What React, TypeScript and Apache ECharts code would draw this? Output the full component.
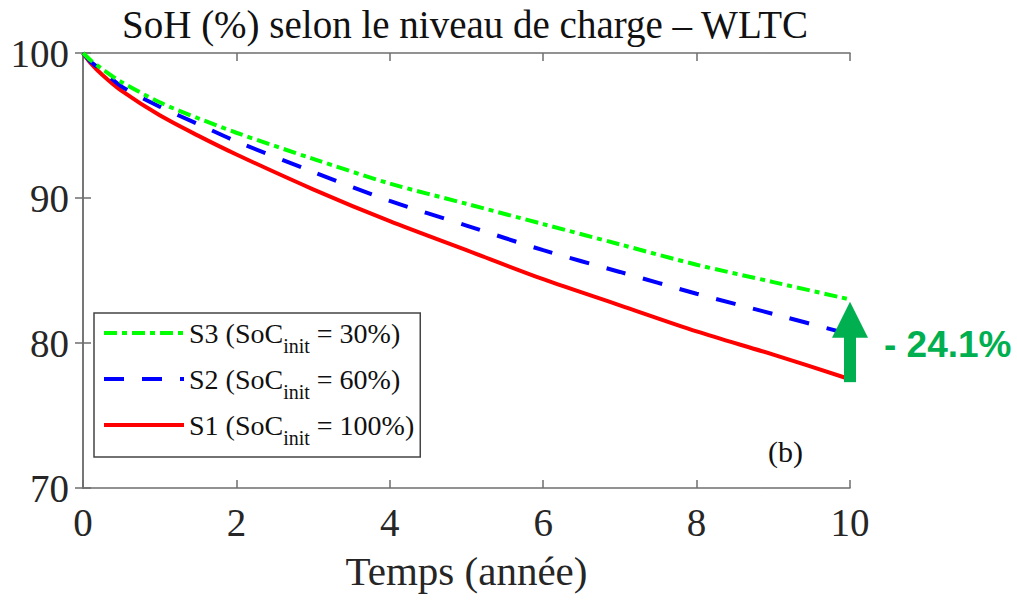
import React, { useEffect, useRef } from "react";
import * as echarts from "echarts";

const years = [0, 0.1, 0.25, 0.5, 1, 1.5, 2, 3, 4, 5, 6, 7, 8, 9, 10];
const s1 = [100, 99.3, 98.5, 97.4, 95.7, 94.3, 93.0, 90.6, 88.4, 86.4, 84.4, 82.6, 80.8, 79.2, 77.5];
const s2 = [100, 99.4, 98.8, 97.7, 96.3, 95.1, 93.9, 91.8, 89.8, 88.1, 86.4, 84.9, 83.4, 82.0, 80.6];
const s3 = [100, 99.5, 98.9, 98.0, 96.6, 95.5, 94.5, 92.7, 91.0, 89.6, 88.2, 86.8, 85.4, 84.2, 83.0];
const seriesNames = ["S3", "S2", "S1"];
const socInit = ["30%", "60%", "100%"];
const xTicks = [0, 2, 4, 6, 8, 10];
const yTicks = [70, 80, 90, 100];
const arrowFrom = 77.3;
const arrowTo = 81.6;
const deltaLabel = "- 24.1%";

const SERIF = "'Liberation Serif', 'Times New Roman', serif";
const AXIS = "#6e6e6e";
const TXT = "#262626";
const GREEN_ANN = "#00B050";

export default function App() {
  const ref = useRef<HTMLDivElement>(null);
  useEffect(() => {
    document.body.style.margin = "0";
    const chart = echarts.init(ref.current!, null, { renderer: "svg" });
    const pair = (vals: number[]) => years.map((t, i) => [t, vals[i]]);
    const axisCommon = {
      type: "value" as const,
      axisLine: { show: true, lineStyle: { color: AXIS, width: 1.5 } },
      axisTick: { show: true, inside: true, length: 8, lineStyle: { color: AXIS, width: 1.5 } },
      splitLine: { show: false },
    };
    chart.setOption({
      animation: false,
      backgroundColor: "#fff",
      title: {
        text: "SoH (%) selon le niveau de charge – WLTC",
        left: 460,
        textAlign: "center",
        top: 0,
        textStyle: { fontFamily: SERIF, fontSize: 39, fontWeight: "normal", color: "#111" },
      },
      grid: { left: 83, right: 167, top: 53, bottom: 114, containLabel: false },
      xAxis: [
        {
          ...axisCommon,
          min: xTicks[0],
          max: xTicks[xTicks.length - 1],
          interval: 2,
          position: "bottom",
          name: "Temps (année)",
          nameLocation: "middle",
          nameGap: 62,
          nameTextStyle: { fontFamily: SERIF, fontSize: 41, color: TXT },
          axisLabel: { fontFamily: SERIF, fontSize: 39, color: TXT, margin: 15 },
        },
        {
          ...axisCommon,
          min: xTicks[0],
          max: xTicks[xTicks.length - 1],
          interval: 2,
          position: "top",
          axisLabel: { show: false },
        },
      ],
      yAxis: [
        {
          ...axisCommon,
          min: yTicks[0],
          max: yTicks[yTicks.length - 1],
          interval: 10,
          position: "left",
          axisLabel: { fontFamily: SERIF, fontSize: 39, color: TXT, margin: 14 },
        },
        {
          ...axisCommon,
          min: yTicks[0],
          max: yTicks[yTicks.length - 1],
          interval: 10,
          position: "right",
          axisLabel: { show: false },
        },
      ],
      legend: {
        data: seriesNames,
        orient: "vertical",
        left: 94,
        top: 313,
        backgroundColor: "#fff",
        borderColor: "#444",
        borderWidth: 1.5,
        borderRadius: 0,
        padding: [6, 6, 9, 8],
        itemWidth: 80,
        itemHeight: 20,
        itemGap: 9,
        itemStyle: { opacity: 0 },
        lineStyle: { width: 4 },
        formatter: (name: string) => {
          const i = seriesNames.indexOf(name);
          return `{a|${name} (SoC}{b|init}{a| = ${socInit[i]})}`;
        },
        textStyle: {
          fontFamily: SERIF,
          color: "#111",
          rich: {
            a: { fontFamily: SERIF, fontSize: 28, lineHeight: 28, verticalAlign: "top", color: "#111" },
            b: { fontFamily: SERIF, fontSize: 20, lineHeight: 19, padding: [17, 0, 0, 0], verticalAlign: "top", color: "#111" },
          },
        },
      },
      series: [
        {
          name: "S3",
          type: "line",
          data: pair(s3),
          symbol: "none",
          smooth: 0.3,
          lineStyle: { color: "#00FF00", width: 4, type: [13, 5, 5, 5] },
          itemStyle: { color: "#00FF00" },
          z: 3,
        },
        {
          name: "S2",
          type: "line",
          data: pair(s2),
          symbol: "none",
          smooth: 0.3,
          lineStyle: { color: "#0000FF", width: 4, type: [20, 18] },
          itemStyle: { color: "#0000FF" },
          z: 2,
        },
        {
          name: "S1",
          type: "line",
          data: pair(s1),
          symbol: "none",
          smooth: 0.3,
          lineStyle: { color: "#FF0000", width: 4, type: "solid" },
          itemStyle: { color: "#FF0000" },
          z: 1,
          markLine: {
            silent: true,
            symbol: ["none", "triangle"],
            symbolSize: [36, 36],
            label: { show: false },
            lineStyle: { color: GREEN_ANN, width: 12, type: "solid" },
            itemStyle: { color: GREEN_ANN },
            z: 10,
            data: [[{ coord: [10, arrowFrom] }, { coord: [10, arrowTo] }]],
          },
        },
      ],
      graphic: [
        {
          type: "text",
          left: 884,
          top: 326,
          style: {
            text: deltaLabel,
            fontFamily: "'Liberation Sans', Arial, sans-serif",
            fontWeight: "bold",
            fontSize: 37,
            fill: GREEN_ANN,
          },
        },
        {
          type: "text",
          left: 768,
          top: 436,
          style: { text: "(b)", fontFamily: SERIF, fontSize: 30, fill: "#111" },
        },
      ],
    });
    return () => chart.dispose();
  }, []);
  return <div ref={ref} style={{ position: "fixed", left: 0, top: 0, width: 1017, height: 602 }} />;
}
